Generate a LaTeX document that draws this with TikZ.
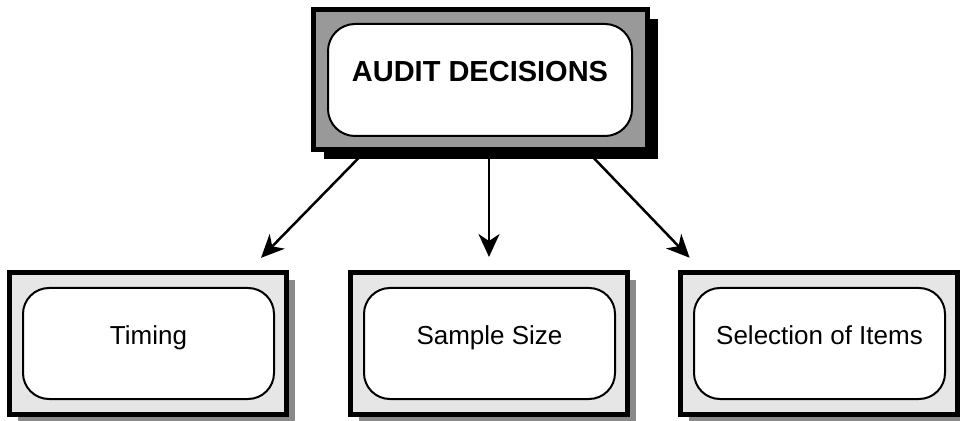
\documentclass[tikz,border=0pt]{standalone}
\usepackage{fontspec}
\setmainfont{Liberation Sans}
\usetikzlibrary{positioning,shadows,arrows.meta,calc}
\definecolor{framegray}{HTML}{999999}
\definecolor{panelgray}{HTML}{E6E6E6}
\definecolor{shadegray}{HTML}{8A8A8A}
\tikzset{
  headframe/.style = {
    rectangle, draw, line width=5pt, fill=framegray, inner sep=0pt,
    minimum width=334pt, minimum height=140pt,
    drop shadow={shadow xshift=10pt, shadow yshift=-10pt, fill=black, opacity=1}
  },
  subframe/.style = {
    rectangle, draw, line width=5pt, fill=panelgray, inner sep=0pt,
    minimum width=277pt, minimum height=142pt,
    drop shadow={shadow xshift=8pt, shadow yshift=-8pt, fill=shadegray, opacity=1}
  },
  headlabel/.style = {
    rectangle, draw, line width=2pt, fill=white, rounded corners=27pt,
    minimum width=304pt, minimum height=112pt, align=center,
    font=\fontsize{29pt}{34pt}\selectfont\bfseries,
    text height=0.72em, text depth=0.45em
  },
  sublabel/.style = {
    rectangle, draw, line width=2pt, fill=white, rounded corners=26pt,
    minimum width=251pt, minimum height=111pt, align=center,
    font=\fontsize{26pt}{31pt}\selectfont,
    text height=0.72em, text depth=0.5em
  },
  flow/.style = {-{Stealth[length=23pt, width=21pt, inset=7pt]}, line width=2.5pt,
                 shorten >=17pt}
}

\begin{document}
\begin{tikzpicture}[x=1pt,y=1pt]
\useasboundingbox (0,0) rectangle (960,420);

% --- the decision at the top ----------------------------------------------
\node[headframe] (head) at (480.5,340.5) {};
\node[headlabel] (decisions) at (480,340) {AUDIT DECISIONS};

% --- the three things that are decided ------------------------------------
\node[subframe] (timingbox) at (148,76.5) {};
\node[sublabel] (timing) at (148.5,76.5) {Timing};

\node[subframe] (samplebox) at (489,76.5) {};
\node[sublabel] (sample) at (489.5,76.5) {Sample Size};

\node[subframe] (itemsbox) at (819,76.5) {};
\node[sublabel] (items) at (819.5,76.5) {Selection of Items};

% --- arrows ---------------------------------------------------------------
\draw[flow] (head.212) -- (timingbox.36);
\draw[flow, shorten >=13pt] (head.south -| samplebox.north) -- (samplebox.north);
\draw[flow] (head.326) -- (itemsbox.148);

\end{tikzpicture}
\end{document}
